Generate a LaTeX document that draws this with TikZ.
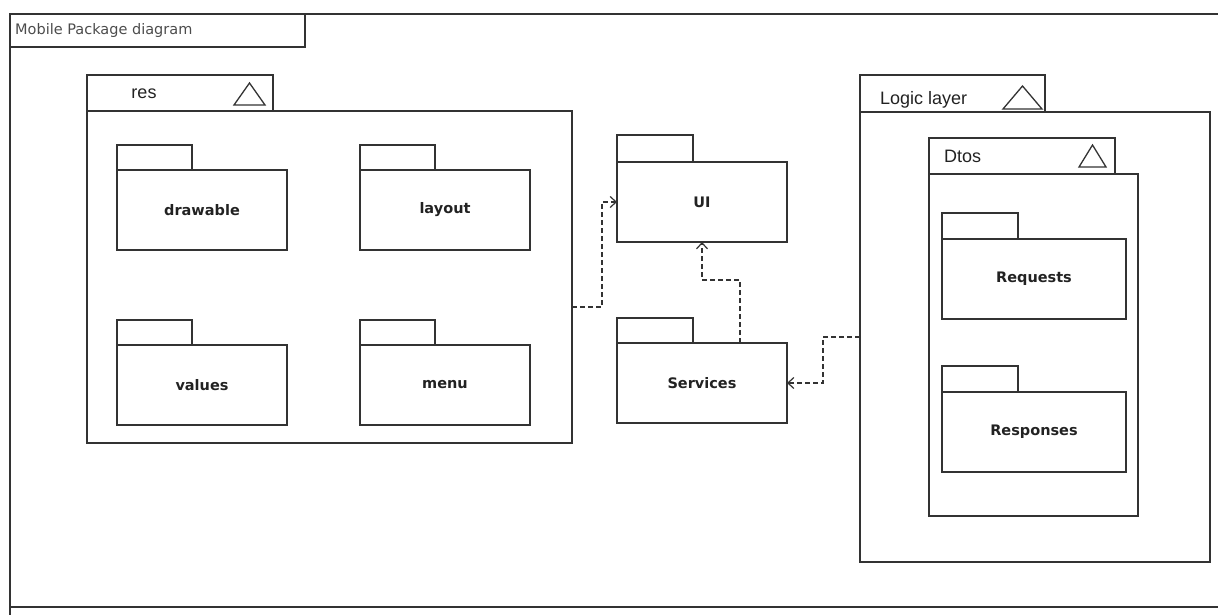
\documentclass[tikz,border=0pt]{standalone}
\usepackage{fontspec}
\setmainfont{DejaVu Sans}
\newfontfamily\lblfont{Liberation Sans}
\usetikzlibrary{arrows.meta,calc}
\definecolor{ln}{HTML}{333333}
\definecolor{tx}{HTML}{222222}
\tikzset{
  pkg/.style={draw=ln,line width=1.3pt,minimum width=170pt,minimum height=80pt,anchor=north west,inner sep=0pt,outer sep=0pt,font=\bfseries\fontsize{14.5}{16}\selectfont,text=tx},
  tabbox/.style={draw=ln,line width=1.3pt},
  bigpkg/.style={draw=ln,line width=1.3pt,anchor=north west,inner sep=0pt,outer sep=0pt},
  dep/.style={draw=ln,line width=1.3pt,dash pattern=on 5pt off 3pt,-{Straight Barb[length=6pt,width=11pt,line width=1.2pt]}},
  tri/.style={draw=ln,line width=1.3pt,line join=miter},
  hdr/.style={font=\lblfont\fontsize{18}{20}\selectfont,text=tx,inner sep=0pt}
}
\begin{document}
\begin{tikzpicture}[x=1pt,y=-1pt]
\useasboundingbox (0,0) rectangle (1218,615);
% frame
\draw[ln,line width=1.4pt] (10,615) -- (10,14) -- (1218,14);
\draw[ln,line width=1.4pt] (10,47) -- (305,47) -- (305,14);
\draw[ln,line width=1.4pt] (10,607) -- (1218,607);
\node[anchor=base west,inner sep=0pt,font=\fontsize{14.5}{16}\selectfont,text=black!70] (title) at (15,35) {Mobile Package diagram};

% res package
\node[bigpkg,minimum width=485pt,minimum height=332pt] (res) at (87,111) {};
\draw[tabbox] (res.north west) rectangle ++(186,-36);
\node[hdr,anchor=base] (reslbl) at (144,99) {res};
\draw[tri] (234,105) -- (249.5,83) -- (265,105) -- cycle;

\node[pkg] (drawable) at (117,170) {drawable};
\draw[tabbox] (drawable.north west) rectangle ++(75,-25);
\node[pkg] (layout) at (360,170) {layout};
\draw[tabbox] (layout.north west) rectangle ++(75,-25);
\node[pkg] (values) at (117,345) {values};
\draw[tabbox] (values.north west) rectangle ++(75,-25);
\node[pkg] (menu) at (360,345) {menu};
\draw[tabbox] (menu.north west) rectangle ++(75,-25);

% UI and Services
\node[pkg] (UI) at (617,162) {UI};
\draw[tabbox] (UI.north west) rectangle ++(76,-27);
\node[pkg] (Services) at (617,343) {Services};
\draw[tabbox] (Services.north west) rectangle ++(76,-25);

% Logic layer
\node[bigpkg,minimum width=350pt,minimum height=450pt] (logic) at (860,112) {};
\draw[tabbox] (logic.north west) rectangle ++(185,-37);
\node[hdr,anchor=base west] (logiclbl) at (880,105) {Logic layer};
\draw[tri] (1003,109) -- (1022.5,86) -- (1042,109) -- cycle;

% Dtos
\node[bigpkg,minimum width=209pt,minimum height=342pt] (dtos) at (929,174) {};
\draw[tabbox] (dtos.north west) rectangle ++(186,-36);
\node[hdr,anchor=base west] (dtoslbl) at (944,163) {Dtos};
\draw[tri] (1079,167) -- (1092.5,145) -- (1106,167) -- cycle;

\node[pkg,minimum width=184pt] (req) at (942,239) {Requests};
\draw[tabbox] (req.north west) rectangle ++(76,-26);
\node[pkg,minimum width=184pt] (resp) at (942,392) {Responses};
\draw[tabbox] (resp.north west) rectangle ++(76,-26);

% dependencies
\draw[dep] ([yshift=-30pt]res.east) -| ([xshift=-15pt]UI.west) -- (UI.west);
\draw[dep] ([xshift=38pt]Services.north) -- ++(0,-63) -| (UI.south);
\draw[dep] (logic.west) -- ++(-37,0) |- (Services.east);
\end{tikzpicture}
\end{document}
